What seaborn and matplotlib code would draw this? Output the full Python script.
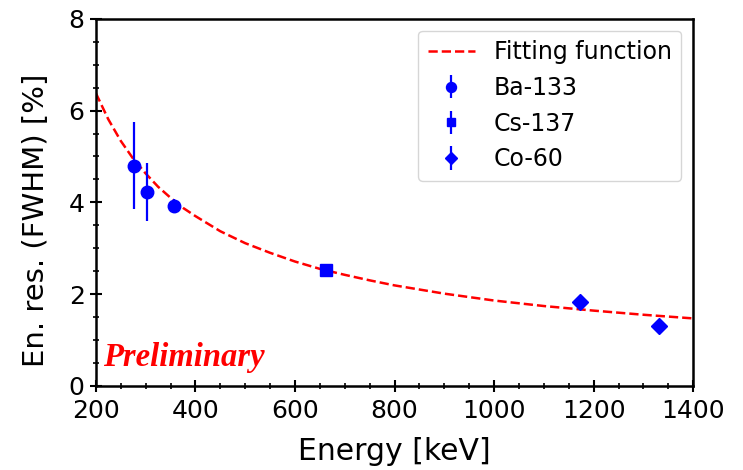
import numpy as np
import pandas as pd
import seaborn as sns
import matplotlib.pyplot as plt
from matplotlib.ticker import MultipleLocator

# measured points (energy in keV, resolution in %)
ba_energy = [276, 303, 356]
ba_res = [4.80, 4.22, 3.92]
ba_err = [0.95, 0.63, 0.15]

cs_energy = [662]
cs_res = [2.52]
cs_err = [0.06]

co_energy = [1173, 1332]
co_res = [1.83, 1.30]
co_err = [0.10, 0.06]

# fitting curve
fit_energy = [200, 225, 250, 275, 300, 325, 350, 375, 400, 450, 500, 550, 600,
              650, 700, 750, 800, 900, 1000, 1100, 1200, 1300, 1400]
fit_res = [6.38, 5.81, 5.34, 4.95, 4.63, 4.34, 4.10, 3.88, 3.70, 3.37, 3.11, 2.90, 2.71,
           2.55, 2.42, 2.30, 2.19, 2.01, 1.86, 1.74, 1.64, 1.55, 1.47]

sns.set_style("ticks")
plt.rcParams['font.family'] = ['DejaVu Sans']
plt.rcParams['text.color'] = 'black'
plt.rcParams['axes.labelcolor'] = 'black'
plt.rcParams['xtick.color'] = 'black'
plt.rcParams['ytick.color'] = 'black'
plt.rcParams['axes.edgecolor'] = 'black'

fig = plt.figure(figsize=(7.43, 4.70), dpi=100)
ax = fig.add_axes([0.129, 0.179, 0.804, 0.781])

fit_df = pd.DataFrame({'Energy': fit_energy, 'Res': fit_res})
sns.lineplot(data=fit_df, x='Energy', y='Res', ax=ax, color='red',
             linestyle='--', linewidth=1.8, label='Fitting function')

ax.errorbar(ba_energy, ba_res, yerr=ba_err, fmt='o', color='blue',
            markersize=9, elinewidth=1.6, label='Ba-133')
ax.errorbar(cs_energy, cs_res, yerr=cs_err, fmt='s', color='blue',
            markersize=8, elinewidth=1.6, label='Cs-137')
ax.errorbar(co_energy, co_res, yerr=co_err, fmt='D', color='blue',
            markersize=8, elinewidth=1.6, label='Co-60')

ax.set_xlim(200, 1400)
ax.set_ylim(0, 8)
ax.xaxis.set_major_locator(MultipleLocator(200))
ax.xaxis.set_minor_locator(MultipleLocator(50))
ax.yaxis.set_major_locator(MultipleLocator(2))
ax.yaxis.set_minor_locator(MultipleLocator(0.5))
ax.tick_params(which='major', direction='inout', length=9, width=1.5, labelsize=18)
ax.tick_params(axis='x', which='major', pad=5)
ax.tick_params(which='minor', direction='inout', length=5, width=1.2)

for sp in ax.spines.values():
    sp.set_linewidth(1.8)

ax.set_xlabel('Energy [keV]', fontsize=21.5, labelpad=10)
ax.set_ylabel('En. res. (FWHM) [%]', fontsize=21)
ax.yaxis.set_label_coords(-0.077, 0.452)

ax.text(0.012, 0.055, 'Preliminary', transform=ax.transAxes, color='red',
        fontsize=23.5, fontweight='bold', fontstyle='italic',
        family=['Liberation Serif'])

leg = ax.legend(loc='upper right', fontsize=17, frameon=True, markerscale=0.8)
leg.get_frame().set_edgecolor('#cccccc')

fig.savefig('out.png', dpi=100)
